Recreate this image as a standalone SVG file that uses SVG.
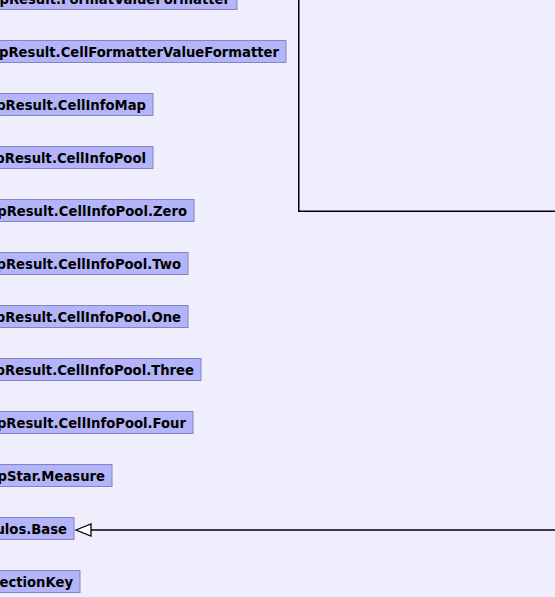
<svg xmlns="http://www.w3.org/2000/svg" width="555" height="597" viewBox="0 0 555 597">
<style>
.bg{fill:#eeeefc}
.node rect{fill:#b4b4f8;stroke:#8484c4;stroke-width:1}
.node text{font-family:"DejaVu Sans",sans-serif;font-weight:bold;font-size:13.2px;fill:#000;text-anchor:end}
.frame{fill:none;stroke:#000;stroke-width:1.5}
.edge{stroke:#000;stroke-width:1.3;fill:none}
.head{fill:#fff;stroke:#000;stroke-width:1.3}
</style>
<rect class="bg" x="0" y="0" width="555" height="597"/>
<g id="frame"><rect class="frame" x="298.75" y="-20" width="300" height="231.25"/></g>
<g id="n1" class="node"><rect x="-10" y="-12.5" width="247" height="22"/><text x="230" y="3.5">pResult.FormatValueFormatter</text></g>
<g id="n2" class="node"><rect x="-10" y="40.5" width="296" height="22"/><text x="279" y="56.5">pResult.CellFormatterValueFormatter</text></g>
<g id="n3" class="node"><rect x="-10" y="93.5" width="163" height="22"/><text x="146" y="109.5">pResult.CellInfoMap</text></g>
<g id="n4" class="node"><rect x="-10" y="146.5" width="163" height="22"/><text x="146" y="162.5">pResult.CellInfoPool</text></g>
<g id="n5" class="node"><rect x="-10" y="199.5" width="204" height="22"/><text x="187" y="215.5">pResult.CellInfoPool.Zero</text></g>
<g id="n6" class="node"><rect x="-10" y="252.5" width="198" height="22"/><text x="181" y="268.5">pResult.CellInfoPool.Two</text></g>
<g id="n7" class="node"><rect x="-10" y="305.5" width="198" height="22"/><text x="181" y="321.5">pResult.CellInfoPool.One</text></g>
<g id="n8" class="node"><rect x="-10" y="358.5" width="211" height="22"/><text x="194" y="374.5">pResult.CellInfoPool.Three</text></g>
<g id="n9" class="node"><rect x="-10" y="411.5" width="203" height="22"/><text x="186" y="427.5">pResult.CellInfoPool.Four</text></g>
<g id="n10" class="node"><rect x="-10" y="464.5" width="122" height="22"/><text x="105" y="480.5">pStar.Measure</text></g>
<g id="n11" class="node"><rect x="-10" y="517.5" width="84" height="22"/><text x="67" y="533.5">ulos.Base</text></g>
<g id="n12" class="node"><rect x="-10" y="570.5" width="90" height="22"/><text x="73" y="586.5">nectionKey</text></g>
<g id="edges">
<line class="edge" x1="91" y1="530" x2="556" y2="530"/>
<polygon class="head" points="76,530 91,524 91,536"/>
</g>
</svg>
